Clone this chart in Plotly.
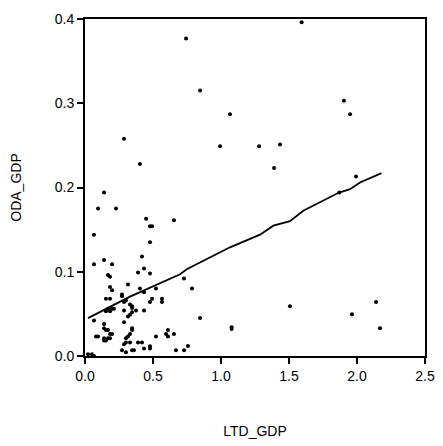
import plotly.graph_objects as go

ltd_gdp = [1.593, 0.743, 0.846, 1.904, 1.066, 1.949, 0.287, 0.993, 1.28, 1.434,
           0.404, 1.39, 1.993, 1.87, 0.140, 0.096, 0.228, 0.449, 0.478, 0.493,
           0.654, 0.066, 0.478, 0.419, 0.066, 0.140, 0.199, 0.434, 0.390, 0.478,
           0.169, 0.184, 0.728, 0.316, 0.184, 0.199, 0.404, 0.522, 0.787, 0.434,
           0.272, 0.272, 0.154, 0.184, 0.493, 0.566, 0.566, 0.301, 0.331, 0.346,
           0.287, 0.478, 1.507, 2.14, 1.963, 0.169, 0.184, 0.199, 0.213, 0.154,
           0.287, 0.346, 0.375, 0.434, 0.346, 0.331, 0.316, 0.846, 0.066, 0.287,
           0.140, 0.140, 0.154, 0.169, 0.346, 0.346, 1.078, 1.078, 2.169, 0.331,
           0.316, 0.096, 0.081, 0.184, 0.199, 0.140, 0.154, 0.169, 0.140, 0.184,
           0.301, 0.522, 0.61, 0.596, 0.61, 0.654, 0.287, 0.301, 0.331, 0.390,
           0.419, 0.346, 0.272, 0.301, 0.360, 0.434, 0.478, 0.478, 0.669, 0.728,
           0.757, 0.022, 0.051, 0.066]
oda_gdp = [0.396, 0.377, 0.315, 0.303, 0.287, 0.287, 0.258, 0.249, 0.249, 0.251,
           0.228, 0.223, 0.213, 0.194, 0.194, 0.175, 0.175, 0.163, 0.154, 0.154,
           0.161, 0.144, 0.135, 0.118, 0.109, 0.114, 0.109, 0.104, 0.099, 0.098,
           0.096, 0.094, 0.092, 0.085, 0.082, 0.078, 0.080, 0.080, 0.080, 0.0756,
           0.073, 0.071, 0.068, 0.068, 0.068, 0.068, 0.064, 0.066, 0.061, 0.059,
           0.064, 0.064, 0.059, 0.064, 0.0495, 0.056, 0.053, 0.056, 0.056, 0.053,
           0.054, 0.057, 0.054, 0.054, 0.052, 0.049, 0.047, 0.045, 0.042, 0.040,
           0.038, 0.033, 0.031, 0.031, 0.033, 0.031, 0.032, 0.034, 0.033, 0.026,
           0.023, 0.023, 0.023, 0.026, 0.026, 0.021, 0.0185, 0.021, 0.0185, 0.021,
           0.021, 0.023, 0.031, 0.026, 0.023, 0.026, 0.014, 0.016, 0.016, 0.016,
           0.016, 0.0067, 0.0067, 0.0044, 0.0067, 0.009, 0.0115, 0.009, 0.0067, 0.0067,
           0.012, 0.002, 0.002, 0.0]

fit_x = [0.022, 0.331, 0.699, 0.748, 1.066, 1.287, 1.385, 1.507, 1.605, 1.868, 1.949, 2.022, 2.18]
fit_y = [0.045, 0.0705, 0.097, 0.103, 0.129, 0.144, 0.1547, 0.160, 0.1725, 0.194, 0.198, 0.206, 0.217]

x_ticks = [0.0, 0.5, 1.0, 1.5, 2.0, 2.5]
y_ticks = [0.0, 0.1, 0.2, 0.3, 0.4]

fig = go.Figure()
fig.add_trace(go.Scatter(x=ltd_gdp, y=oda_gdp, mode="markers",
                         marker=dict(color="black", size=4), cliponaxis=False))
fig.add_trace(go.Scatter(x=fit_x, y=fit_y, mode="lines",
                         line=dict(color="black", width=1.8)))

font = dict(family="Liberation Sans, Arial, sans-serif", size=14, color="black")
fig.update_layout(
    width=443, height=446,
    margin=dict(l=77, r=26, t=11, b=98),
    paper_bgcolor="white", plot_bgcolor="white",
    showlegend=False, font=font,
)
fig.update_xaxes(range=[0, 2.5], tickvals=x_ticks, ticktext=[f"{v:.1f}" for v in x_ticks],
                 showgrid=False, zeroline=False, showline=True, linecolor="black",
                 linewidth=2, mirror=True, ticks="outside", ticklen=6, tickwidth=1.5,
                 tickcolor="black", automargin=False,
                 title=dict(text="LTD_GDP", standoff=43, font=font))
fig.update_yaxes(range=[0, 0.4], tickvals=y_ticks, ticktext=[f"{v:.1f}" for v in y_ticks],
                 showgrid=False, zeroline=False, showline=True, linecolor="black",
                 linewidth=2, mirror=True, ticks="outside", ticklen=6, tickwidth=1.5,
                 tickcolor="black", automargin=False,
                 title=dict(text="ODA_GDP", standoff=38, font=font))
fig.write_html("out.html")
